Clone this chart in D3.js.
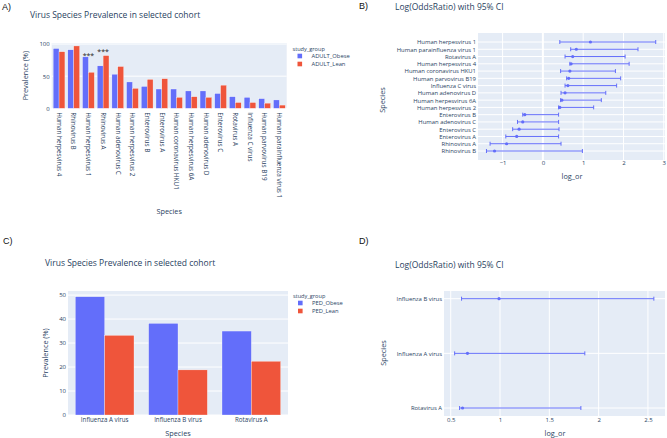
<!DOCTYPE html>
<html><head><meta charset="utf-8">
<script src="https://cdn.jsdelivr.net/npm/d3@7"></script>
<style>body{margin:0;background:#fff}svg{display:block}text{font-family:"Open Sans",sans-serif;fill:#2a3f5f}</style>
</head><body>
<svg id="c" width="667" height="438"></svg>
<script>
// ---- Panel A data (adult cohort prevalence) ----
const speciesA = ["Human herpesvirus 4","Rhinovirus B","Human herpesvirus 1","Rhinovirus A","Human adenovirus C","Human herpesvirus 2","Enterovirus B","Enterovirus A","Human coronavirus HKU1","Human herpesvirus 6A","Human adenovirus D","Enterovirus C","Rotavirus A","Influenza C virus","Human parvovirus B19","Human parainfluenza virus 1"];
const adultObese = [93, 91, 80, 66, 53, 41, 34, 30, 30, 27, 27, 23, 18, 17, 15, 13];
const adultLean  = [88, 97, 56, 82, 65, 31, 45, 46, 17, 18, 17, 36, 9, 9, 8, 5];
const sigSpecies = ["Human herpesvirus 1","Rhinovirus A"];
const sigLevel   = [86, 92];
const groupsA = ["ADULT_Obese","ADULT_Lean"];
const ticksA = [0, 50, 100];

// ---- Panel B data (adult log odds ratio) ----
const speciesB = ["Human herpesvirus 1","Human parainfluenza virus 1","Rotavirus A","Human herpesvirus 4","Human coronavirus HKU1","Human parvovirus B19","Influenza C virus","Human adenovirus D","Human herpesvirus 6A","Human herpesvirus 2","Enterovirus B","Human adenovirus C","Enterovirus C","Enterovirus A","Rhinovirus A","Rhinovirus B"];
const logOrB = [1.18, 0.83, 0.74, 0.70, 0.67, 0.64, 0.62, 0.55, 0.47, 0.42, -0.45, -0.50, -0.59, -0.65, -0.90, -1.20];
const lowB   = [0.42, 0.69, 0.55, 0.67, 0.44, 0.59, 0.55, 0.45, 0.44, 0.39, -0.50, -0.63, -0.75, -0.92, -1.31, -1.40];
const highB  = [2.80, 2.36, 2.04, 2.14, 1.80, 1.93, 1.83, 1.56, 1.45, 1.26, 0.39, 0.39, 0.40, 0.39, 0.45, 0.98];
const ticksB = [-1, 0, 1, 2, 3];

// ---- Panel C data (pediatric cohort prevalence) ----
const speciesC = ["Influenza A virus","Influenza B virus","Rotavirus A"];
const pedObese = [49.3, 38.2, 35.0];
const pedLean  = [33.2, 18.8, 22.4];
const groupsC = ["PED_Obese","PED_Lean"];
const ticksC = [0, 10, 20, 30, 40, 50];

// ---- Panel D data (pediatric log odds ratio) ----
const speciesD = ["Influenza B virus","Influenza A virus","Rotavirus A"];
const logOrD = [0.99, 0.67, 0.62];
const lowD   = [0.61, 0.54, 0.59];
const highD  = [2.56, 1.86, 1.82];
const ticksD = [0.5, 1, 1.5, 2, 2.5];

const BLUE = "#636efa", RED = "#EF553B", BG = "#E5ECF6";
const svg = d3.select("#c");

function letter(t, x, y){
  svg.append("text").attr("x",x).attr("y",y).attr("dy","0.35em")
    .style("font-family","'Liberation Sans',Arial,sans-serif").style("font-size","9px").style("fill","#111").text(t);
}
function title(t, x, y){
  svg.append("text").attr("x",x).attr("y",y).attr("dy","0.35em").style("font-size","8.5px").text(t);
}

function barPanel(o){
  const g = svg.append("g");
  const x = d3.scaleBand().domain(o.cats).range([o.x0,o.x1]).paddingInner(0.2).paddingOuter(0.1);
  const y = d3.scaleLinear().domain([0,o.ymax]).range([o.y1,o.y0]);
  g.append("rect").attr("x",o.x0).attr("y",o.y0).attr("width",o.x1-o.x0).attr("height",o.y1-o.y0).attr("fill",BG);
  g.selectAll(".gl").data(o.ticks).join("line").attr("x1",o.x0).attr("x2",o.x1)
    .attr("y1",d=>y(d)).attr("y2",d=>y(d)).attr("stroke","#fff").attr("stroke-width",1);
  const x2 = d3.scaleBand().domain([0,1]).range([0,x.bandwidth()]);
  [o.s1,o.s2].forEach((vals,k)=>{
    g.selectAll(".b"+k).data(vals).join("rect")
      .attr("x",(d,i)=>x(o.cats[i])+x2(k)).attr("width",x2.bandwidth())
      .attr("y",d=>y(d)).attr("height",d=>y(0)-y(d)).attr("fill",k?RED:BLUE)
      .attr("stroke","#fff").attr("stroke-width",0.3);
  });
  const ya = g.append("g").attr("transform",`translate(${o.x0-2},0)`)
    .call(d3.axisLeft(y).tickValues(o.ticks).tickSize(0).tickPadding(0));
  ya.select(".domain").remove();
  ya.selectAll("text").style("font-size","6px").style("fill","#2a3f5f").style("font-family","'Open Sans',sans-serif");
  const xa = g.append("g").attr("transform",`translate(0,${o.y1})`)
    .call(d3.axisBottom(x).tickSize(0).tickPadding(0));
  xa.select(".domain").remove();
  xa.selectAll("text").style("font-size",o.xfs).style("fill","#2a3f5f").style("font-family","'Open Sans',sans-serif");
  if(o.rotate){
    xa.selectAll("text").attr("transform","translate(0,4) rotate(90)").attr("text-anchor","start").attr("x",0).attr("y",0).attr("dy","0.35em");
  } else {
    xa.selectAll("text").attr("y",5).attr("dy","0.35em");
  }
  g.append("text").attr("x",(o.x0+o.x1)/2).attr("y",o.xtY).attr("dy","0.35em").attr("text-anchor","middle").style("font-size","7.3px").text("Species");
  g.append("text").attr("transform",`translate(${o.ytX},${(o.y0+o.y1)/2}) rotate(-90)`).attr("dy","0.35em").attr("text-anchor","middle").style("font-size","7.3px").text("Prevalence (%)");
  const lg = g.append("g");
  lg.append("text").attr("x",o.lx).attr("y",o.ly).attr("dy","0.35em").style("font-size","5.6px").text("study_group");
  o.groups.forEach((n,k)=>{
    lg.append("rect").attr("x",o.lx+5).attr("y",o.ly+7+k*8-2.3).attr("width",4.6).attr("height",4.6).attr("fill",k?RED:BLUE);
    lg.append("text").attr("x",o.lx+19).attr("y",o.ly+7+k*8).attr("dy","0.35em").style("font-size","5.8px").text(n);
  });
  return {x,y,g};
}

function forestPanel(o){
  const g = svg.append("g");
  const x = d3.scaleLinear().domain(o.xd).range([o.x0,o.x1]);
  const y = d3.scalePoint().domain(o.cats).range([o.r0,o.r1]);
  g.append("rect").attr("x",o.x0).attr("y",o.y0).attr("width",o.x1-o.x0).attr("height",o.y1-o.y0).attr("fill",BG);
  g.selectAll(".gy").data(o.cats).join("line").attr("x1",o.x0).attr("x2",o.x1)
    .attr("y1",d=>y(d)).attr("y2",d=>y(d)).attr("stroke","#fff").attr("stroke-width",1);
  g.selectAll(".gx").data(o.ticks).join("line").attr("y1",o.y0).attr("y2",o.y1)
    .attr("x1",d=>x(d)).attr("x2",d=>x(d)).attr("stroke","#fff").attr("stroke-width",d=>d===0?2:1);
  const rows = o.cats.map((c,i)=>({c,v:o.v[i],lo:o.lo[i],hi:o.hi[i]}));
  const cw = 2;
  g.selectAll(".eb").data(rows).join("line").attr("x1",d=>x(d.lo)).attr("x2",d=>x(d.hi))
    .attr("y1",d=>y(d.c)).attr("y2",d=>y(d.c)).attr("stroke",BLUE).attr("stroke-width",1);
  g.selectAll(".cl").data(rows).join("line").attr("x1",d=>x(d.lo)).attr("x2",d=>x(d.lo))
    .attr("y1",d=>y(d.c)-cw).attr("y2",d=>y(d.c)+cw).attr("stroke",BLUE).attr("stroke-width",1);
  g.selectAll(".ch").data(rows).join("line").attr("x1",d=>x(d.hi)).attr("x2",d=>x(d.hi))
    .attr("y1",d=>y(d.c)-cw).attr("y2",d=>y(d.c)+cw).attr("stroke",BLUE).attr("stroke-width",1);
  g.selectAll(".pt").data(rows).join("circle").attr("cx",d=>x(d.v)).attr("cy",d=>y(d.c)).attr("r",1.6).attr("fill",BLUE);
  const ya = g.append("g").attr("transform",`translate(${o.x0-2},0)`).call(d3.axisLeft(y).tickSize(0).tickPadding(0));
  ya.select(".domain").remove();
  ya.selectAll("text").style("font-size",o.yfs).style("fill","#2a3f5f").style("font-family","'Open Sans',sans-serif");
  const xa = g.append("g").attr("transform",`translate(0,${o.y1})`).call(d3.axisBottom(x).tickValues(o.ticks).tickFormat(d3.format("~g")).tickSize(0).tickPadding(0));
  xa.select(".domain").remove();
  xa.selectAll("text").attr("y",o.tkOff).attr("dy","0.35em").style("font-size","6px").style("fill","#2a3f5f").style("font-family","'Open Sans',sans-serif");
  g.append("text").attr("x",o.xtX).attr("y",o.xtY).attr("dy","0.35em").attr("text-anchor","middle").style("font-size","7.3px").text("log_or");
  g.append("text").attr("transform",`translate(${o.ytX},${o.ytY}) rotate(-90)`).attr("dy","0.35em").attr("text-anchor","middle").style("font-size","7.3px").text("Species");
}

// Panel A
letter("A)", 2, 7);
title("Virus Species Prevalence in selected cohort", 30, 15);
const A = barPanel({cats:speciesA, s1:adultObese, s2:adultLean, groups:groupsA, ticks:ticksA, ymax:101.6,
  x0:51.7, x1:286.7, y0:43, y1:108.3, rotate:true, xfs:"6.4px", xtY:211, ytX:25, lx:292.5, ly:49});
A.g.selectAll(".sig").data(sigSpecies).join("text").attr("class","sig")
  .attr("x",d=>A.x(d)+A.x.bandwidth()/2).attr("y",(d,i)=>A.y(sigLevel[i])).attr("dy","0.7em")
  .attr("text-anchor","middle").style("font-size","7px").style("fill","#222").text("***");

// Panel B
letter("B)", 359, 6);
title("Log(OddsRatio) with 95% CI", 395, 7.5);
forestPanel({cats:speciesB, v:logOrB, lo:lowB, hi:highB, ticks:ticksB, xd:[-1.61,3.03],
  x0:478, x1:665, y0:33, y1:160, r0:42, r1:151, yfs:"5.9px", tkOff:2.5, xtX:572, xtY:176, ytX:382, ytY:100});

// Panel C
letter("C)", 3, 241);
title("Virus Species Prevalence in selected cohort", 45, 263.5);
barPanel({cats:speciesC, s1:pedObese, s2:pedLean, groups:groupsC, ticks:ticksC, ymax:51.7,
  x0:68, x1:288, y0:291, y1:415, rotate:false, xfs:"6.2px", xtY:433, ytX:45, lx:293, ly:296});

// Panel D
letter("D)", 359, 241);
title("Log(OddsRatio) with 95% CI", 395, 265);
forestPanel({cats:speciesD, v:logOrD, lo:lowD, hi:highD, ticks:ticksD, xd:[0.432,2.673],
  x0:444, x1:665, y0:291, y1:416, r0:298.7, r1:408, yfs:"5.9px", tkOff:4, xtX:555, xtY:433, ytX:383, ytY:353});
</script>
</body></html>
